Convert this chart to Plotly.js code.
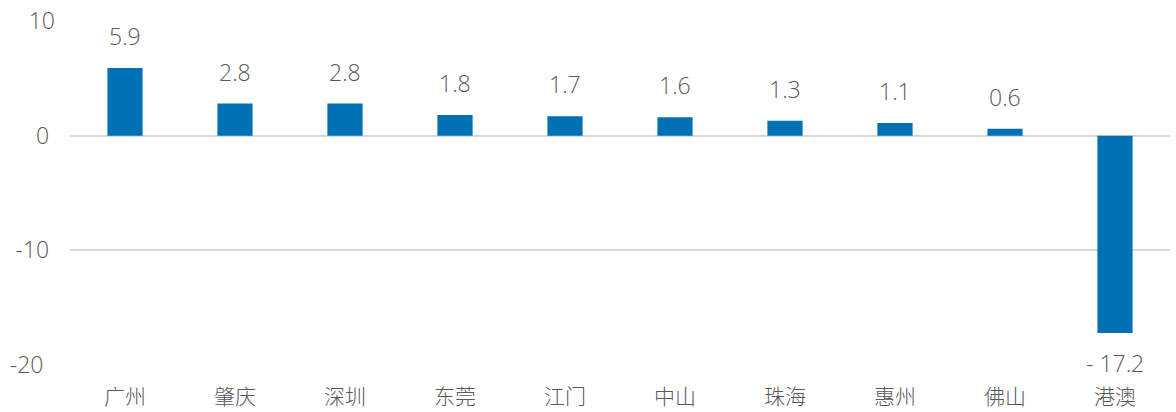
<!DOCTYPE html>
<html><head><meta charset="utf-8">
<script src="https://cdn.plot.ly/plotly-3.0.1.min.js"></script>
<style>html,body{margin:0;padding:0;background:#fff}#chart{width:1176px;height:412px}</style>
</head><body><div id="chart"></div>
<script>
const categories = ["广州","肇庆","深圳","东莞","江门","中山","珠海","惠州","佛山","港澳"];
const values = [5.9, 2.8, 2.8, 1.8, 1.7, 1.6, 1.3, 1.1, 0.6, -17.2];
const yTickVals = [-20, -10, 0, 10];
const yTickText = ["-20\u2005\u2005", "-10\u2005", "0\u2005", "10"];

const fmt = v => v < 0 ? "- " + Math.abs(v).toFixed(1) : v.toFixed(1);
const textFont = {family: "Open Sans, sans-serif", size: 23, color: "#595959", weight: 300};

const annotations = categories.map((c, i) => ({
  x: c, y: values[i], xref: "x", yref: "y",
  text: fmt(values[i]), showarrow: false,
  yanchor: values[i] >= 0 ? "bottom" : "top",
  yshift: values[i] >= 0 ? 14 : -12,
  font: textFont
}));

const trace = {
  type: "bar", x: categories, y: values,
  marker: {color: "#0071B5"}, width: 0.32, hoverinfo: "none"
};

const layout = {
  width: 1176, height: 412,
  margin: {l: 70, r: 6, t: 21, b: 47},
  paper_bgcolor: "#fff", plot_bgcolor: "#fff",
  showlegend: false,
  xaxis: {
    type: "category", showgrid: false, zeroline: false, showline: false, ticks: "",
    tickfont: {family: "Noto Sans CJK SC, sans-serif", size: 21, color: "#595959", weight: 300},
    ticklabelstandoff: 17
  },
  yaxis: {
    range: [-20, 10], tickvals: yTickVals, ticktext: yTickText,
    showgrid: true, gridcolor: "#d9d9d9", gridwidth: 2,
    zeroline: true, zerolinecolor: "#d9d9d9", zerolinewidth: 2,
    showline: false, ticks: "",
    tickfont: textFont, ticklabelstandoff: 14
  },
  annotations: annotations
};
Plotly.newPlot("chart", [trace], layout, {staticPlot: true});
</script></body></html>
